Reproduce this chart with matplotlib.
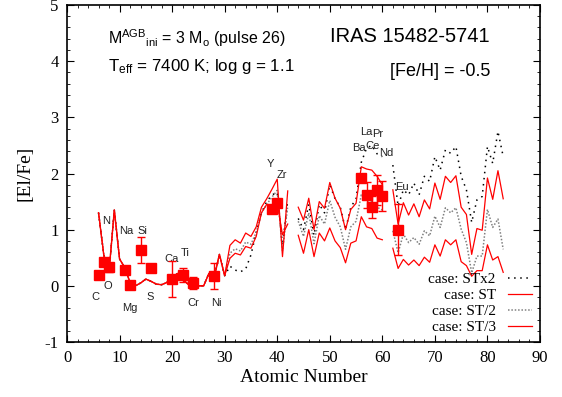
import numpy as np
import matplotlib
matplotlib.use("Agg")
import matplotlib.pyplot as plt
from matplotlib.ticker import MultipleLocator

plt.rcParams["mathtext.fontset"] = "custom"
plt.rcParams["mathtext.rm"] = "Liberation Sans"
plt.rcParams["mathtext.it"] = "Liberation Sans"
plt.rcParams["axes.unicode_minus"] = False

# ---------------- data ----------------
Z = np.arange(6, 84)
low_common = [1.30, 0.55, 0.25, 1.35, 0.48, 0.32, 0.06, 0.00, 0.05, 0.12, 0.08, 0.03,
              0.02, 0.06, 0.14, 0.22, 0.12, 0.03, 0.00, 0.00, 0.00, 0.22, 0.15, 0.56, 0.18]

st_a = [0.72, 0.82, 0.76, 0.94, 0.88, 1.05, 1.40, 1.55, 1.72, 1.90, 0.52, 1.69]
st_b = [1.40, 1.17, 1.56, 1.00, 1.50, 1.38, 1.84, 1.56, 1.38, 1.00, 1.36, 1.47, 2.12, 2.08, 2.06, 1.95, 1.80]
st_c = [1.71, 1.10, 1.48, 1.26, 1.46, 1.23, 1.53, 1.37, 1.83, 1.54, 1.95, 1.84, 1.96, 1.40, 1.27, 0.56,
        1.02, 0.99, 1.92, 1.54, 2.05, 1.55]

st3_a = [0.49, 0.58, 0.55, 0.70, 0.67, 0.88, 1.30, 1.45, 1.44, 1.47, 0.91, 1.10]
st3_b = [0.90, 0.58, 1.00, 0.52, 0.94, 0.80, 1.03, 0.80, 0.68, 0.41, 0.76, 0.80, 1.23, 1.05, 1.02, 0.85, 0.82]
st3_c = [0.67, 0.31, 0.47, 0.37, 0.46, 0.36, 0.51, 0.42, 0.73, 0.53, 0.82, 0.73, 0.82, 0.43, 0.36, 0.17,
         0.27, 0.27, 0.73, 0.46, 0.52, 0.24]

st2_a = [0.58, 0.66, 0.62, 0.78, 0.74, 0.95, 1.30, 1.45, 1.58, 1.70, 0.62, 1.42]
st2_b = [1.15, 0.88, 1.30, 0.75, 1.25, 1.10, 1.52, 1.22, 1.05, 0.65, 1.05, 1.15, 1.62, 1.52, 1.50, 1.40, 1.35]
st2_c = [0.98, 0.59, 0.92, 0.77, 0.86, 0.74, 0.98, 0.89, 1.24, 1.04, 1.39, 1.30, 1.39, 1.01, 0.77, 0.23,
         0.53, 0.53, 1.36, 1.04, 1.19, 0.65]

stx2_a = [0.35, 0.28, 0.25, 0.30, 0.55, 0.95, 1.30, 1.50, 1.62, 1.66, 0.72, 1.52]
stx2_b = [1.20, 1.00, 1.45, 0.90, 1.45, 1.30, 1.80, 1.55, 1.40, 1.00, 1.40, 1.55, 2.20, 2.45, 2.50, 2.35, 2.30]
stx2_c = [2.15, 1.42, 1.71, 1.62, 1.83, 1.62, 1.95, 1.86, 2.30, 2.06, 2.42, 2.36, 2.48, 1.95, 1.71, 1.13,
          1.53, 1.59, 2.48, 2.18, 2.75, 2.30]

obs_Z = [6, 7, 8, 11, 12, 14, 16, 20, 22, 24, 28, 39, 40, 56, 57, 58, 59, 60, 63]
obs_val = [0.20, 0.42, 0.33, 0.28, 0.01, 0.64, 0.32, 0.12, 0.19, 0.05, 0.17, 1.37, 1.47,
           1.92, 1.62, 1.40, 1.71, 1.60, 1.00]
obs_err = [0.05, 0.0, 0.08, 0.0, 0.0, 0.23, 0.0, 0.32, 0.12, 0.10, 0.23, 0.05, 0.05,
           0.0, 0.23, 0.20, 0.27, 0.26, 0.45]

el_names = ["C", "N", "O", "Na", "Mg", "Si", "S", "Ca", "Ti", "Cr", "Ni", "Y", "Zr",
            "Ba", "La", "Pr", "Ce", "Nd", "Eu"]
el_x = [5.5, 7.4, 7.8, 11.3, 11.9, 14.4, 15.9, 19.85, 22.45, 24.1, 28.5, 38.8, 40.85,
        55.6, 56.9, 59.2, 58.2, 60.8, 63.7]
el_y = [-0.2, 1.16, 0.0, 0.97, -0.4, 0.97, -0.2, 0.47, 0.59, -0.31, -0.31, 2.17, 1.98,
        2.45, 2.73, 2.70, 2.49, 2.36, 1.76]


def build(a, b, c):
    return np.array(low_common + a + [np.nan] + b + [np.nan] + c, dtype=float)


cases = [
    ("case: STx2", build(stx2_a, stx2_b, stx2_c), dict(color="black", ls=(0, (1, 3.0)), lw=1.1, zorder=2)),
    ("case: ST", build(st_a, st_b, st_c), dict(color="#ff0000", ls="-", lw=0.9, zorder=3)),
    ("case: ST/2", build(st2_a, st2_b, st2_c), dict(color="#808080", ls=(0, (1, 1.2)), lw=1.1, zorder=2)),
    ("case: ST/3", build(st3_a, st3_b, st3_c), dict(color="#ff0000", ls="-", lw=0.9, zorder=3)),
]

# ---------------- figure ----------------
W, H = 562, 397
fig = plt.figure(figsize=(W / 100, H / 100), dpi=100)
ax = fig.add_axes([67 / W, 1 - 342 / H, (540 - 67) / W, (342 - 5) / H])

for lab, y, st in cases:
    ax.plot(Z, y, label=lab, **st)

ax.errorbar(obs_Z, obs_val, yerr=obs_err, fmt="s", color="#ff0000", ms=6.5,
            ecolor="#ff0000", elinewidth=1.0, capsize=3, capthick=1.0, zorder=5)

for n, x, y in zip(el_names, el_x, el_y):
    ax.text(x, y, n, ha="center", va="center", fontsize=8, family="Liberation Sans", color="#222222")

ax.set_xlim(0, 90)
ax.set_ylim(-1, 5)
ax.xaxis.set_major_locator(MultipleLocator(10))
ax.xaxis.set_minor_locator(MultipleLocator(2))
ax.yaxis.set_major_locator(MultipleLocator(1))
ax.yaxis.set_minor_locator(MultipleLocator(0.2))
ax.tick_params(which="both", direction="in", top=True, right=True)
ax.tick_params(which="major", length=5, width=0.8, labelsize=12, pad=6)
ax.tick_params(which="minor", length=2.5, width=0.6)
for lbl in ax.get_xticklabels() + ax.get_yticklabels():
    lbl.set_family("Liberation Serif")
for s in ax.spines.values():
    s.set_linewidth(1.2)

ax.set_xlabel("Atomic Number", fontsize=14, family="Liberation Serif", labelpad=2)
ax.set_ylabel("[El/Fe]", fontsize=14, family="Liberation Serif", labelpad=8)

fig.text(108 / W, 1 - 38 / H, r"M$^{\mathrm{AGB}}$$_{\mathrm{ini}}$ = 3 M$_{\mathrm{o}}$ (pulse 26)",
         fontsize=11.5, family="Liberation Sans", va="center", ha="left")
fig.text(108 / W, 1 - 66 / H, r"T$_{\mathrm{eff}}$ = 7400 K; log g = 1.1",
         fontsize=12.2, family="Liberation Sans", va="center", ha="left")
fig.text(330 / W, 1 - 36 / H, "IRAS 15482-5741",
         fontsize=14.5, family="Liberation Sans", va="center", ha="left")
fig.text(390 / W, 1 - 71 / H, "[Fe/H] = -0.5",
         fontsize=13, family="Liberation Sans", va="center", ha="left")

leg = ax.legend(loc="lower right", frameon=False, markerfirst=False,
                prop={"family": "Liberation Serif", "size": 11}, handlelength=1.6,
                handletextpad=0.8, labelspacing=0.15, borderaxespad=0.1,
                bbox_to_anchor=(1.0, 0.0))
for t in leg.get_texts():
    t.set_ha("right")

fig.savefig("out.png", dpi=100)
